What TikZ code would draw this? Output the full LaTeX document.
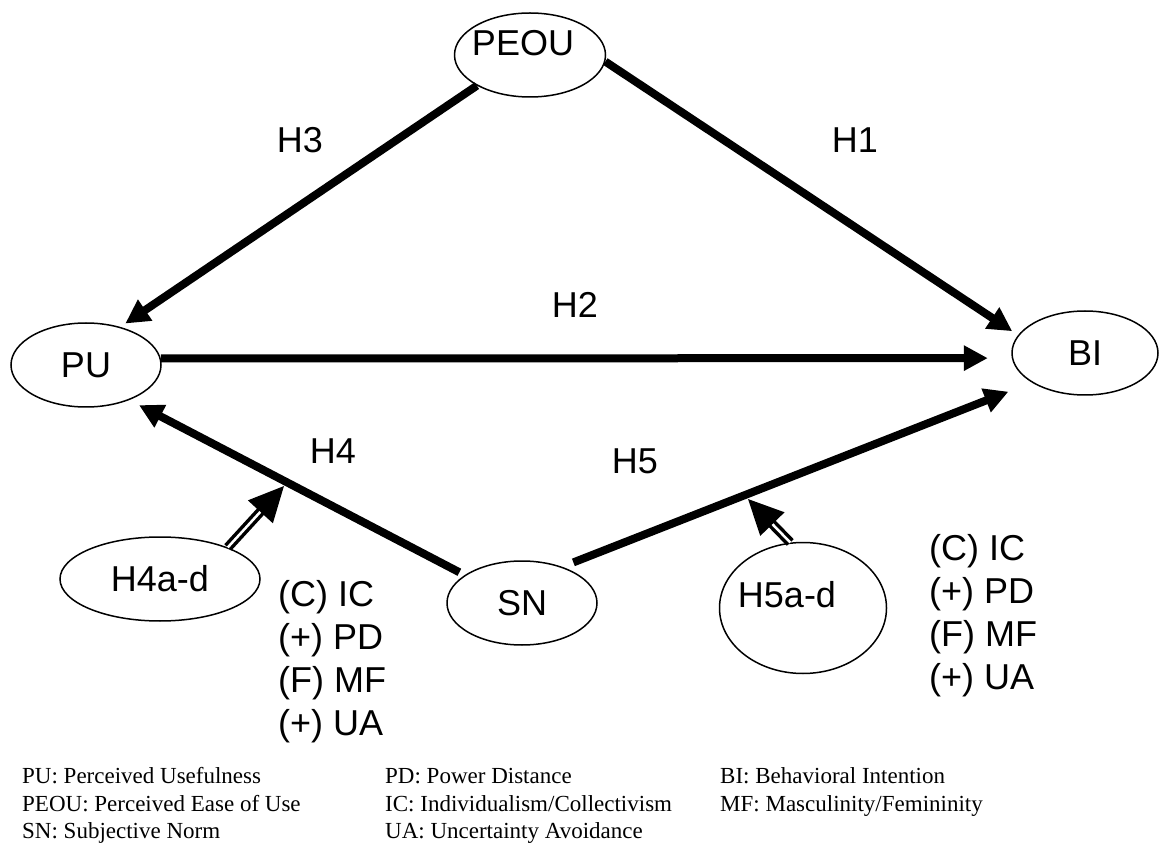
\documentclass[tikz,border=0pt]{standalone}
\usepackage{fontspec}
\setmainfont{Liberation Serif}
\newfontfamily\arialfont{Liberation Sans}
\usetikzlibrary{shapes.geometric,arrows.meta}
\tikzset{
  ell/.style={draw, line width=1.5pt, ellipse, inner sep=0pt, font=\arialfont\fontsize{36}{43}\selectfont},
  lbl/.style={inner sep=0pt, font=\arialfont\fontsize{36}{43}\selectfont},
  listline/.style={inner sep=0pt, anchor=base west, font=\arialfont\fontsize{36}{43}\selectfont},
  legendline/.style={inner sep=0pt, anchor=base west, font=\fontsize{23}{27.5}\selectfont},
  thickarrow/.style={line width=8pt, -{Triangle[length=24pt,width=24pt]}},
  dblarrow/.style={line width=3.5pt, double=white, double distance=2.5pt, -{Triangle[length=35pt,width=33pt]}}
}
\begin{document}
\begin{tikzpicture}[x=1pt,y=-1pt]
\useasboundingbox (0,0) rectangle (1160,850);

% ellipses
\node[ell, minimum width=151pt, minimum height=84pt] (peou) at (530,55) {};
\node[lbl] (peoutxt) at (523,43) {PEOU};
\node[ell, minimum width=150pt, minimum height=84pt] (pu) at (86,365) {PU};
\node[ell, minimum width=146pt, minimum height=84pt] (bi) at (1085,353) {BI};
\node[ell, minimum width=150pt, minimum height=84pt] (sn) at (522,603) {SN};
\node[ell, minimum width=200pt, minimum height=84pt] (h4a) at (160,579) {H4a-d};
\node[ell, minimum width=167pt, minimum height=131pt] (h5a) at (803,608) {};
\node[lbl] (h5txt) at (787,595) {H5a-d};

% hypothesis labels
\node[lbl] (lh3) at (300,140) {H3};
\node[lbl] (lh1) at (855,140) {H1};
\node[lbl] (lh2) at (575,305) {H2};
\node[lbl] (lh4) at (333,451) {H4};
\node[lbl] (lh5) at (635,461) {H5};

% main connectors
\draw[thickarrow, shorten >=6pt] (peou.210) -- (pu.48);
\draw[thickarrow, shorten >=7pt] (peou.-5) -- (bi.165);
\draw[thickarrow, shorten >=24pt] (pu.5) -- (bi.184);
\draw[thickarrow, shorten <=6pt, shorten >=11pt] (sn.154) -- (pu.-39.5);
\draw[thickarrow, shorten <=12pt, shorten >=25pt] (sn.42) -- (bi.209.6);

% moderator arrows
\coordinate (h4hit) at (284,486);
\coordinate (h5hit) at (748,499);
\draw[dblarrow] (h4a.25) -- (h4hit);
\draw[dblarrow] (h5a.101) -- (h5hit);

% moderator lists
\node[listline] (l1) at (278,606) {(C) IC};
\node[listline] (l2) at (278,649) {(+) PD};
\node[listline] (l3) at (278,692) {(F) MF};
\node[listline] (l4) at (278,735) {(+) UA};
\node[listline] (r1) at (929,560) {(C) IC};
\node[listline] (r2) at (929,603) {(+) PD};
\node[listline] (r3) at (929,646) {(F) MF};
\node[listline] (r4) at (929,689) {(+) UA};

% legend
\node[legendline] (g1) at (22,783) {PU: Perceived Usefulness};
\node[legendline] (g2) at (22,811) {PEOU: Perceived Ease of Use};
\node[legendline] (g3) at (22,838) {SN: Subjective Norm};
\node[legendline] (g4) at (385,783) {PD: Power Distance};
\node[legendline] (g5) at (385,811) {IC: Individualism/Collectivism};
\node[legendline] (g6) at (385,838) {UA: Uncertainty Avoidance};
\node[legendline] (g7) at (720,783) {BI: Behavioral Intention};
\node[legendline] (g8) at (720,811) {MF: Masculinity/Femininity};
\end{tikzpicture}
\end{document}
